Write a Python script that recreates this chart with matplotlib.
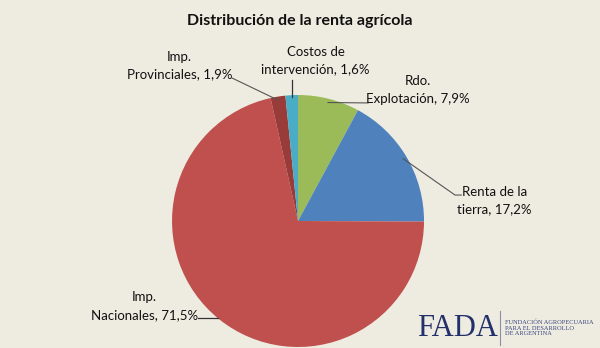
import matplotlib.pyplot as plt
import numpy as np

# datos de la distribución (%)
categorias = ['Rdo. Explotación', 'Renta de la tierra', 'Imp. Nacionales',
              'Imp. Provinciales', 'Costos de intervención']
valores = [7.9, 17.2, 71.5, 1.9, 1.6]
etiquetas = ['Rdo.\nExplotación, 7,9%', 'Renta de la\ntierra, 17,2%',
             'Imp.\nNacionales, 71,5%', 'Imp.\nProvinciales, 1,9%',
             'Costos de\nintervención, 1,6%']
colores = ['#9BBB59', '#4F81BD', '#C0504D', '#983B39', '#4BACC6']

fondo = '#EEECE1'
plt.rcParams['font.family'] = ['Lato', 'DejaVu Sans']

fig = plt.figure(figsize=(6, 3.48), dpi=100, facecolor=fondo)

# título
fig.text(0.5, 0.94, 'Distribución de la renta agrícola', ha='center', va='center',
         fontsize=11.5, fontweight='bold', color='#111111')

ax = fig.add_axes([0.2867, 0.0029, 0.42, 0.7241])
ax.set_facecolor(fondo)
wedges, _ = ax.pie(valores, colors=colores, startangle=90, counterclock=False,
                   wedgeprops={'linewidth': 0})
ax.set_xlim(-1, 1)
ax.set_ylim(-1, 1)
ax.set_aspect('equal')
ax.axis('off')

# posición de cada etiqueta (coordenadas de datos) y punto final de la línea guía
pos_texto = [(0.95, 1.04), (1.56, 0.16), (-1.22, -0.675), (-0.94, 1.234), (0.14, 1.274)]
fin_linea = [(0.556, 0.937), (1.246, 0.206), (-0.635, -0.77), (-0.524, 1.135), (-0.048, 1.119)]

for i, w in enumerate(wedges):
    ang = np.deg2rad((w.theta1 + w.theta2) / 2)
    x0, y0 = 0.97 * np.cos(ang), 0.97 * np.sin(ang)
    xe, ye = fin_linea[i]
    if i == 1:
        ax.plot([x0, xe, xe + 0.05], [y0, ye, ye], color='#555555', lw=0.8, clip_on=False)
    elif i == 2:
        ax.plot([xe, -0.79], [ye, ye], color='#333333', lw=0.9, clip_on=False)
    elif i == 4:
        ax.plot([xe, xe], [0.984, ye], color='#333333', lw=0.9, clip_on=False)
    else:
        ax.plot([x0, xe], [y0, ye], color='#555555', lw=0.8, clip_on=False)
    ax.text(pos_texto[i][0], pos_texto[i][1], etiquetas[i], ha='center', va='center',
            fontsize=9.5, color='#111111', linespacing=1.55, clip_on=False)

# logo
fig.text(0.695, 0.055, 'FADA', fontsize=22, family='Liberation Serif', color='#23306B',
         ha='left', va='center')
fig.add_artist(plt.Line2D([0.833, 0.833], [0.01, 0.105], color='#8A8FA8', lw=0.8))
fig.text(0.842, 0.058, 'FUNDACIÓN AGROPECUARIA\nPARA EL DESARROLLO\nDE ARGENTINA',
         fontsize=4.6, family='Liberation Serif', color='#3A4580', ha='left', va='center',
         linespacing=1.15)

fig.savefig('out.png', dpi=100, facecolor=fondo)
